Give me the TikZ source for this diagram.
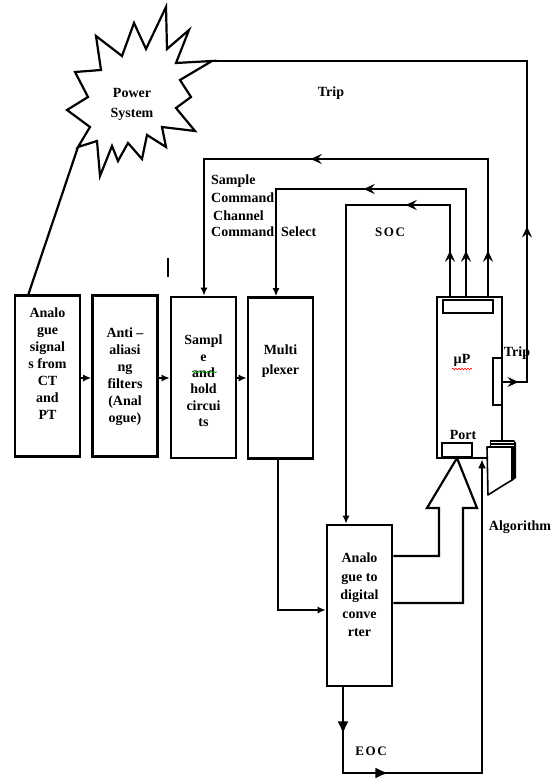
\documentclass[tikz,border=0pt]{standalone}
\usepackage{fontspec}
\setmainfont{Liberation Serif}
\usetikzlibrary{arrows.meta,decorations.markings,decorations.pathmorphing,calc}
\begin{document}
\begin{tikzpicture}[x=1pt,y=-1pt,
  every node/.style={font=\bfseries\fontsize{14}{17}\selectfont},
  box/.style={draw, line width=2.6pt, minimum width=65pt, minimum height=161pt, inner sep=0pt},
  conn/.style={line width=2.2pt},
  txt/.style={align=center, inner sep=0pt},
  ma/.style={postaction={decorate, decoration={markings, mark=at position #1 with {\arrow{Stealth[length=11pt,width=10pt,inset=4pt]}}}}},
  mt/.style={postaction={decorate, decoration={markings, mark=at position #1 with {\arrow{Latex[length=13pt,width=11pt]}}}}},
  tip/.style={-{Latex[length=8pt,width=7pt]}},
  wavy/.style={decorate, decoration={snake, amplitude=0.8pt, segment length=3pt}, line width=0.6pt}]
\useasboundingbox (0,0) rectangle (553,779);
% power system starburst
\coordinate (psR) at (212,61);
\coordinate (psL) at (78,147);
\draw[line width=2.2pt, line join=miter] (166,7) -- (167,49) -- (189,30) -- (176,63) -- (psR) -- (180,80) -- (191,97) -- (176,108) -- (195,131) -- (162,127) -- (166,147) -- (147,135) -- (142,159) -- (128,143) -- (118,161) -- (112,146) -- (100,176) -- (97,141) -- (psL) -- (90,127) -- (67,110) -- (88,97) -- (75,72) -- (101,70) -- (96,36) -- (122,56) -- (134,23) -- (146,49) -- cycle;
\node[txt, anchor=north, align=center] (ps) at (132,88) {Power\\[3pt]System};
% boxes
\node[box] (b1) at (47.5,376) {};
\node[box] (b2) at (125,376) {};
\node[box] (b3) at (203.5,377.5) {};
\node[box] (b4) at (280.5,378) {};
\node[box] (mp) at (469.5,377.5) {};
\node[box] (adc) at (359.5,605.5) {};
\node[txt, anchor=north] (t1) at (47.5,308) {Analo\\gue\\signal\\s from\\CT\\and\\PT};
\node[txt, anchor=north] (t2) at (125,328) {Anti –\\aliasi\\ng\\filters\\(Anal\\ogue)};
\node[txt, anchor=north, font=\bfseries\fontsize{14}{16.3}\selectfont] (t3) at (203.5,335) {Sampl\\e\\and\\hold\\circui\\ts};
\node[txt, anchor=north, font=\bfseries\fontsize{14}{20}\selectfont] (t4) at (280.5,345) {Multi\\plexer};
\node[txt, anchor=north, font=\bfseries\fontsize{14}{18.5}\selectfont] (t5) at (359.5,553) {Analo\\gue to\\digital\\conve\\rter};
\draw[green!60!black, wavy] (192,372) -- (217,372);
% microprocessor inner parts
\node[draw, line width=2pt, minimum width=50pt, minimum height=13pt, inner sep=0pt] (mptop) at (468,306.5) {};
\node[draw, line width=2pt, minimum width=30pt, minimum height=14pt, inner sep=0pt] (port) at (457,450) {};
\node[draw, line width=2pt, minimum width=9pt, minimum height=47pt, inner sep=0pt] (trbox) at (497,381.5) {};
\node[inner sep=0pt] (mu) at (462,360) {µP};
\draw[red, wavy] (452,369) -- (472,369);
\node[inner sep=0pt] (portl) at (463,435) {Port};
% algorithm icon
\fill (490,440) -- (514,440) -- (516,443) -- (516,478) -- (512,481) -- (490,481) -- cycle;
\draw[white, line width=0.7pt] (491,442.5) -- (514,442.5) (491,445) -- (514,445);
\filldraw[fill=white, line width=1.6pt, line join=round] (487,447) -- (512,447) -- (512,480) -- (499,488) -- (488,495) -- cycle;
\node[inner sep=0pt] (alg) at (520,527) {Algorithm};
% box to box arrows
\draw[line width=2pt, tip] (b1.east |- 0,378) -- (b2.west |- 0,378);
\draw[line width=2pt, tip] (b2.east |- 0,378) -- (b3.west |- 0,378);
\draw[line width=2pt, tip] (b3.east |- 0,378) -- (b4.west |- 0,378);
% power system to first box
\coordinate (p1) at (28,295.5);
\draw[conn] (psL) -- (p1);
% multiplexer to ADC
\coordinate (m1) at (278,610);
\draw[conn, tip] (b4.south -| m1) -- (m1) -- (adc.west |- m1);
% sample command
\coordinate (sc) at (488,159);
\coordinate (sc2) at (204,159);
\draw[conn, ma=45pt, ma=314pt, tip] (mp.north -| sc) -- (sc) -- (sc2) -- (b3.north -| sc2);
% channel select
\coordinate (cs) at (466,189);
\coordinate (cs2) at (276,189);
\draw[conn, ma=45pt, ma=209pt, tip] (mp.north -| cs) -- (cs) -- (cs2) -- (b4.north -| cs2);
% SOC
\coordinate (so) at (450,205);
\coordinate (so2) at (346,205);
\draw[conn, ma=45pt, ma=135pt, tip] (mp.north -| so) -- (so) -- (so2) -- (adc.north -| so2);
% trip
\coordinate (tr1) at (527,382);
\coordinate (tr2) at (527,61);
\draw[conn, ma=16pt, ma=180pt] (trbox.east |- tr1) -- (tr1) -- (tr2) -- (psR);
% hollow arrow ADC to port
\coordinate (h1) at (439,556);
\coordinate (h2) at (463,603);
\draw[conn, line join=miter] (adc.east |- h1) -- (h1) -- (439,508) -- (427,508) -- (port.south) -- (477,508) -- (463,508) -- (h2) -- (adc.east |- h2);
% EOC
\coordinate (e1) at (343,773);
\coordinate (e2) at (482,773);
\draw[conn, mt=47pt, mt=131pt, -{Latex[length=9pt,width=8pt]}] (adc.south -| e1) -- (e1) -- (e2) -- (mp.south -| e2);
% labels
\node[inner sep=0pt] (ltrip) at (331,93) {Trip};
\node[inner sep=0pt] (ltrip2) at (517,353) {Trip};
\node[txt, anchor=north west, align=left, font=\bfseries\fontsize{14}{18}\selectfont] (lsc) at (211,175) {Sample\\Command};
\node[txt, anchor=north west] (lch) at (213,211) {Channel};
\node[txt, anchor=north west] (lcs) at (211,227) {Command\hspace{7pt}Select};
\node[inner sep=0pt, font=\bfseries\fontsize{13}{15}\selectfont\addfontfeature{LetterSpace=12}] (lsoc) at (390,232) {SOC};
\node[inner sep=0pt, font=\bfseries\fontsize{13}{15}\selectfont\addfontfeature{LetterSpace=12}] (leoc) at (371,751) {EOC};
\draw[line width=2.6pt] (168,258) -- (168,277);
\end{tikzpicture}
\end{document}
